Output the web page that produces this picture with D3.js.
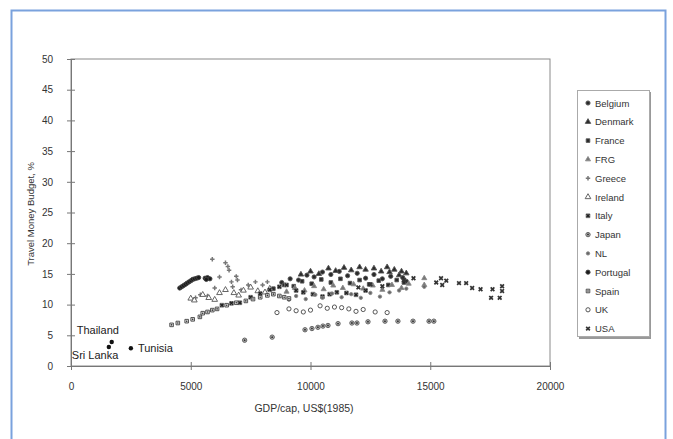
<!DOCTYPE html>
<html>
<head>
<meta charset="utf-8">
<script src="https://cdn.jsdelivr.net/npm/d3@7"></script>
<style>
  html, body { margin: 0; padding: 0; background: #fff; }
  svg { display: block; font-family: "Liberation Sans", Arial, sans-serif; }
</style>
</head>
<body>
<svg id="chart" width="673" height="439"></svg>
<script>
// Travel money budget (%) against GDP per capita (US$ 1985), yearly country observations
const countries = ["Belgium", "Denmark", "France", "FRG", "Greece", "Ireland", "Italy",
                   "Japan", "NL", "Portugal", "Spain", "UK", "USA"];

const xTicks = [0, 5000, 10000, 15000, 20000];
const yTicks = [0, 5, 10, 15, 20, 25, 30, 35, 40, 45, 50];

// [GDP per capita, travel money budget %]
const belgium = [[8800,13.6],[9150,14.2],[9500,14.0],[9850,14.8],[10150,14.5],[10500,15.3],[10850,14.9],
  [11200,15.4],[11550,14.7],[11950,15.1],[12300,14.3],[12650,14.9],[13000,14.2],[13350,14.6],[13850,14.4],[14000,13.8]];
const denmark = [[9600,14.9],[10000,15.4],[10350,15.0],[10750,15.9],[11050,15.5],[11400,16.0],[11700,15.6],
  [12050,16.1],[12300,15.7],[12650,15.9],[12950,15.4],[13200,16.1],[13500,15.7],[13800,15.4],[14000,15.1],[13700,14.8],[13300,15.3]];
const france = [[8450,12.6],[8900,13.2],[9300,13.0],[9650,13.8],[10050,13.4],[10450,14.1],[10850,13.6],
  [11250,14.2],[11650,13.5],[12050,14.0],[12450,13.3],[12850,13.9],[13250,13.2],[13600,14.0],[13900,13.6]];
const frg = [[9000,12.1],[9350,12.7],[9750,12.3],[10150,13.0],[10550,12.5],[10950,13.1],[11350,12.7],
  [11800,13.3],[12200,12.6],[12600,13.1],[13000,12.4],[13400,13.2],[13800,12.7],[14100,13.4],[14750,13.2],[14750,14.3]];
const greece = [[5900,17.4],[6450,16.8],[6550,16.2],[6600,15.6],[6200,14.5],[6900,14.6],[6950,14.0],[6700,13.7],
  [6750,12.9],[7100,12.4],[5200,11.1],[5400,11.6],[5700,11.4],[6000,12.7],[7400,13.2],[7700,13.7],[8000,13.2],[8200,13.7]];
const ireland = [[5000,11.0],[5150,10.7],[5500,11.6],[5750,11.1],[6000,10.8],[6200,11.9],[6450,12.4],
  [6800,11.9],[7200,12.3],[7500,12.8],[7800,12.2],[8100,12.0],[8300,12.6],[7000,11.5]];
const italy = [[6300,9.9],[6700,10.2],[7050,10.3],[7500,11.2],[7900,11.8],[8300,12.4],[8700,12.9],[9000,13.2],
  [9400,12.3],[9700,12.0],[10100,11.7],[10500,11.3],[10800,11.7],[11100,12.0],[11500,11.9],[11900,11.6],[12300,12.3]];
const japan = [[7250,4.2],[8400,4.7],[9770,5.9],[10060,6.1],[10310,6.3],[10520,6.5],[10730,6.6],[11150,6.9],
  [11730,7.0],[11940,7.0],[12400,7.2],[13110,7.3],[13650,7.3],[14280,7.3],[14950,7.3],[15150,7.3]];
const nl = [[9100,10.8],[9400,11.4],[9800,10.9],[10200,11.6],[10500,11.1],[10900,11.8],[11300,11.2],[11700,11.7],
  [12100,11.1],[12500,11.9],[12900,11.3],[13300,12.0],[13700,12.3],[14000,12.6],[14750,12.9]];
const portugal = [[4540,12.7],[4620,12.9],[4700,13.1],[4780,13.3],[4850,13.5],[4930,13.7],[5010,13.9],[5080,14.1],
  [5160,14.2],[5250,14.3],[5330,14.4],[5600,14.3],[5700,14.4],[5800,14.2],[5650,14.1]];
const spain = [[4200,6.7],[4460,7.0],[4830,7.3],[5080,7.6],[5380,8.0],[5500,8.6],[5700,8.8],[5900,9.1],[6100,9.3],
  [6500,9.9],[6900,10.3],[7300,10.6],[7600,10.9],[7900,11.2],[8200,11.5],[8450,11.7],[8700,11.4],[8900,11.2],[9100,11.0]];
const uk = [[8600,8.7],[9100,9.3],[9400,9.0],[9700,8.8],[10000,9.1],[10400,9.8],[10700,9.4],[11000,9.6],
  [11300,9.5],[11600,9.3],[11900,8.9],[12200,9.2],[12700,8.8],[13200,8.7]];
const usa = [[12000,12.8],[12500,13.3],[13000,13.0],[13900,14.0],[14300,14.3],[15250,13.6],[15450,14.3],[15670,13.9],
  [15500,13.2],[16200,13.5],[16500,13.5],[16750,12.7],[17100,12.5],[17600,12.5],[18000,13.0],[18000,12.2],[17540,11.1],[17900,11.1]];

const seriesByCountry = [belgium, denmark, france, frg, greece, ireland, italy,
                         japan, nl, portugal, spain, uk, usa];

// Labelled single observations
const extraNames = ["Thailand", "Sri Lanka", "Tunisia"];
const extraValues = [[1700, 3.9], [1580, 3.1], [2500, 2.9]];

// Marker style per country
const markerStyle = {
  Belgium:  [{ type: d3.symbolCircle,   size: 14, fill: "#2a2a2a", stroke: "#555" }],
  Denmark:  [{ type: d3.symbolTriangle, size: 13, fill: "#2a2a2a", stroke: "#555" }],
  France:   [{ type: d3.symbolSquare,   size: 13, fill: "#2a2a2a", stroke: "#555" }],
  FRG:      [{ type: d3.symbolTriangle, size: 11, fill: "#777", stroke: "#888" }],
  Greece:   [{ type: d3.symbolCross,    size: 11, fill: "#777", stroke: "none" }],
  Ireland:  [{ type: d3.symbolTriangle, size: 14, fill: "#fff", stroke: "#555" }],
  Italy:    [{ type: d3.symbolSquare,   size: 14, fill: "#bbb", stroke: "#777" },
             { type: d3.symbolCross,    size: 10, fill: "#222", stroke: "none", rotate: 45 }],
  Japan:    [{ type: d3.symbolCircle,   size: 15, fill: "#bbb", stroke: "#555" },
             { type: d3.symbolCircle,   size: 3,  fill: "#333", stroke: "none" }],
  NL:       [{ type: d3.symbolCircle,   size: 9,  fill: "#666", stroke: "#888" }],
  Portugal: [{ type: d3.symbolCircle,   size: 14, fill: "#1a1a1a", stroke: "#444" }],
  Spain:    [{ type: d3.symbolSquare,   size: 13, fill: "#ddd", stroke: "#444" },
             { type: d3.symbolCircle,   size: 2,  fill: "#333", stroke: "none" }],
  UK:       [{ type: d3.symbolCircle,   size: 14, fill: "#fff", stroke: "#444" }],
  USA:      [{ type: d3.symbolCross,    size: 15, fill: "#333", stroke: "none", rotate: 45 }]
};

const svg = d3.select("#chart");

// outer frame
svg.append("rect").attr("x", 11.5).attr("y", 10.5).attr("width", 654).attr("height", 445)
  .attr("fill", "#fff").attr("stroke", "#7aa2dd").attr("stroke-width", 2);

const x = d3.scaleLinear().domain([0, 20000]).range([71, 550]);
const y = d3.scaleLinear().domain([0, 50]).range([366, 59]);

// plot border
svg.append("rect").attr("x", x(0)).attr("y", y(50))
  .attr("width", x(20000) - x(0)).attr("height", y(0) - y(50))
  .attr("fill", "none").attr("stroke", "#8a8a8a").attr("stroke-width", 1);

// axes with ticks crossing the axis line
const gx = svg.append("g").attr("transform", `translate(0,${y(0)})`)
  .call(d3.axisBottom(x).tickValues(xTicks).tickFormat(d3.format("d")).tickSize(4).tickPadding(13));
gx.selectAll(".tick line").attr("y1", -4).attr("y2", 4);

const gy = svg.append("g").attr("transform", `translate(${x(0)},0)`)
  .call(d3.axisLeft(y).tickValues(yTicks).tickFormat(d3.format("d")).tickSize(4).tickPadding(14));
gy.selectAll(".tick line").attr("x1", -4).attr("x2", 4);

[gx, gy].forEach(g => {
  g.select(".domain").attr("stroke", "#777");
  g.selectAll(".tick line").attr("stroke", "#777");
  g.selectAll(".tick text").attr("fill", "#333").style("font-size", "10px")
    .style("font-family", "'Liberation Sans', Arial, sans-serif");
});

// axis titles
svg.append("text").attr("x", 304).attr("y", 412).attr("text-anchor", "middle")
  .attr("fill", "#333").style("font-size", "10.5px").text("GDP/cap, US$(1985)");
svg.append("text").attr("transform", "translate(34,214) rotate(-90)").attr("text-anchor", "middle")
  .attr("fill", "#333").style("font-size", "9.5px").text("Travel Money Budget, %");

function drawMarker(g, country) {
  markerStyle[country].forEach(s => {
    g.append("path")
      .attr("d", d3.symbol().type(s.type).size(s.size)())
      .attr("transform", s.rotate ? `rotate(${s.rotate})` : null)
      .attr("fill", s.fill)
      .attr("stroke", s.stroke)
      .attr("stroke-width", 0.9);
  });
}

// data points
const plot = svg.append("g");
countries.forEach((c, i) => {
  seriesByCountry[i].forEach(d => {
    const g = plot.append("g").attr("transform", `translate(${x(d[0])},${y(d[1])})`);
    drawMarker(g, c);
  });
});

// labelled single observations
const labelOffsets = [[-35, -8], [-37, 12], [7, 4]];
extraValues.forEach((d, i) => {
  plot.append("circle").attr("cx", x(d[0])).attr("cy", y(d[1])).attr("r", 2.2).attr("fill", "#111");
  svg.append("text").attr("x", x(d[0]) + labelOffsets[i][0]).attr("y", y(d[1]) + labelOffsets[i][1])
    .attr("fill", "#222").style("font-size", "11px").text(extraNames[i]);
});

// legend
const lg = svg.append("g");
lg.append("rect").attr("x", 579).attr("y", 92).attr("width", 72).attr("height", 247).attr("fill", "#999");
lg.append("rect").attr("x", 577.5).attr("y", 90.5).attr("width", 72).attr("height", 246)
  .attr("fill", "#fff").attr("stroke", "#aaa");
countries.forEach((c, i) => {
  const yy = 103 + i * 18.8;
  const g = lg.append("g").attr("transform", `translate(588,${yy})`);
  drawMarker(g, c);
  lg.append("text").attr("x", 595).attr("y", yy + 3.5).attr("fill", "#333")
    .style("font-size", "9.5px").text(c);
});
</script>
</body>
</html>
